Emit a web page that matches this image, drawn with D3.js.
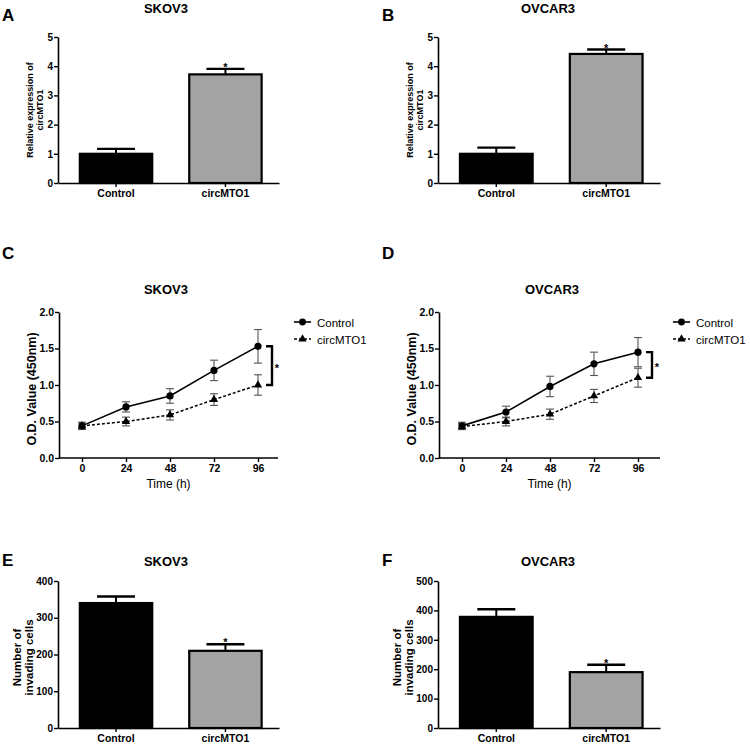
<!DOCTYPE html>
<html>
<head>
<meta charset="utf-8">
<script src="https://cdn.jsdelivr.net/npm/d3@7"></script>
<style>
html,body{margin:0;padding:0;background:#fff;}
svg{display:block;}
text{font-family:"Liberation Sans",Arial,sans-serif;}
</style>
</head>
<body>
<svg id="chart" width="750" height="744"></svg>
<script>
// ---------- data ----------
const barCategories = ["Control", "circMTO1"];
const aMeans = [1.0, 3.72];
const aErrors = [0.17, 0.19];
const bMeans = [1.0, 4.42];
const bErrors = [0.21, 0.15];
const eMeans = [340, 210];
const eErrors = [18, 18];
const fMeans = [378, 190];
const fErrors = [26, 25];
const aTicks = [0, 1, 2, 3, 4, 5];
const eTicks = [0, 100, 200, 300, 400];
const fTicks = [0, 100, 200, 300, 400, 500];

const timePoints = [0, 24, 48, 72, 96];
const cControl = [0.44, 0.70, 0.85, 1.20, 1.53];
const cControlErr = [0.05, 0.07, 0.10, 0.14, 0.23];
const cCirc = [0.44, 0.50, 0.59, 0.80, 1.00];
const cCircErr = [0.04, 0.06, 0.07, 0.08, 0.14];
const dControl = [0.44, 0.63, 0.98, 1.29, 1.45];
const dControlErr = [0.05, 0.08, 0.14, 0.16, 0.20];
const dCirc = [0.43, 0.50, 0.60, 0.85, 1.10];
const dCircErr = [0.04, 0.06, 0.07, 0.09, 0.13];
const odTicks = [0, 0.5, 1.0, 1.5, 2.0];
const seriesNames = ["Control", "circMTO1"];

const svg = d3.select("#chart");
const FONT = "'Liberation Sans',Arial,sans-serif";

function letter(x, y, t) {
  svg.append("text").attr("x", x).attr("y", y).attr("font-size", 17)
    .attr("font-weight", "bold").text(t);
}
function title(x, y, t) {
  svg.append("text").attr("x", x).attr("y", y).attr("text-anchor", "middle")
    .attr("font-size", 13).attr("font-weight", "bold").text(t);
}

function styleAxis(g, fs) {
  g.selectAll("path.domain").attr("stroke", "#000").attr("stroke-width", 1.6);
  g.selectAll(".tick line").attr("stroke", "#000").attr("stroke-width", 1.4);
  g.selectAll(".tick text").attr("font-family", FONT).attr("font-size", fs)
    .attr("font-weight", "bold").attr("fill", "#000");
}

function barPanel(opt) {
  const { x0, x1, yTop, yBot, means, errs, ticks, yMax, yTitle, titleFs, titleOffsets } = opt;
  const xs = d3.scaleBand().domain(barCategories).range([x0, x1])
    .paddingInner(0.32).paddingOuter(0.17).align(0.56);
  const ys = d3.scaleLinear().domain([0, yMax]).range([yBot, yTop]);
  const g = svg.append("g");
  // bars
  g.selectAll("rect.bar").data(barCategories).enter().append("rect")
    .attr("x", d => xs(d) + 1)
    .attr("width", xs.bandwidth() - 2)
    .attr("y", (d, i) => ys(means[i]))
    .attr("height", (d, i) => yBot - ys(means[i]))
    .attr("fill", (d, i) => i === 0 ? "#000" : "#a3a3a3")
    .attr("stroke", "#000").attr("stroke-width", 2.2);
  // error bars (upper only)
  const capW = 38;
  barCategories.forEach((c, i) => {
    const cx = xs(c) + xs.bandwidth() / 2;
    g.append("line").attr("x1", cx).attr("x2", cx)
      .attr("y1", ys(means[i])).attr("y2", ys(means[i] + errs[i]))
      .attr("stroke", "#000").attr("stroke-width", 2);
    g.append("line").attr("x1", cx - capW / 2).attr("x2", cx + capW / 2)
      .attr("y1", ys(means[i] + errs[i])).attr("y2", ys(means[i] + errs[i]))
      .attr("stroke", "#000").attr("stroke-width", 2.4);
    if (i === 1) {
      g.append("text").attr("x", cx).attr("y", ys(means[i] + errs[i]) + 2)
        .attr("text-anchor", "middle").attr("font-size", 11).attr("font-weight", "bold").text("*");
    }
  });
  // axes
  const ya = svg.append("g").attr("transform", `translate(${x0},0)`)
    .call(d3.axisLeft(ys).tickValues(ticks).tickSize(4).tickSizeOuter(0).tickPadding(1).tickFormat(d3.format("d")));
  styleAxis(ya, 10);
  const xa = svg.append("g").attr("transform", `translate(0,${yBot})`)
    .call(d3.axisBottom(xs).tickSize(4).tickSizeOuter(0).tickPadding(3));
  styleAxis(xa, 10.5);
  // y title
  const cy = (yTop + yBot) / 2 + (opt.titleShift || 0);
  yTitle.forEach((line, k) => {
    svg.append("text").attr("transform", `translate(${titleOffsets[k]},${cy}) rotate(-90)`)
      .attr("text-anchor", "middle").attr("font-size", titleFs).attr("font-weight", "bold").text(line);
  });
}

function linePanel(opt) {
  const { x0, x1, yTop, yBot, ctrl, ctrlErr, circ, circErr, legendX } = opt;
  const xs = d3.scaleLinear().domain([0, 96]).range([x0 + 23, x0 + 199]);
  const ys = d3.scaleLinear().domain([0, 2.0]).range([yBot, yTop]);
  const g = svg.append("g");
  const capW = 8;
  // error bars
  [[ctrl, ctrlErr], [circ, circErr]].forEach(([m, e]) => {
    timePoints.forEach((t, i) => {
      const cx = xs(t);
      g.append("line").attr("x1", cx).attr("x2", cx).attr("y1", ys(m[i] - e[i])).attr("y2", ys(m[i] + e[i]))
        .attr("stroke", "#555").attr("stroke-width", 1.1);
      [m[i] - e[i], m[i] + e[i]].forEach(v => {
        g.append("line").attr("x1", cx - capW / 2).attr("x2", cx + capW / 2).attr("y1", ys(v)).attr("y2", ys(v))
          .attr("stroke", "#555").attr("stroke-width", 1.1);
      });
    });
  });
  const line = d3.line().x((d, i) => xs(timePoints[i])).y(d => ys(d));
  g.append("path").attr("d", line(circ)).attr("fill", "none").attr("stroke", "#000")
    .attr("stroke-width", 1.5).attr("stroke-dasharray", "3,2");
  g.append("path").attr("d", line(ctrl)).attr("fill", "none").attr("stroke", "#000").attr("stroke-width", 1.6);
  const tri = d3.symbol().type(d3.symbolTriangle).size(30);
  g.selectAll("path.tri").data(circ).enter().append("path")
    .attr("d", tri).attr("transform", (d, i) => `translate(${xs(timePoints[i])},${ys(d)})`).attr("fill", "#000");
  g.selectAll("circle.pt").data(ctrl).enter().append("circle")
    .attr("cx", (d, i) => xs(timePoints[i])).attr("cy", d => ys(d)).attr("r", 3.6).attr("fill", "#000");
  // axes
  const ya = svg.append("g").attr("transform", `translate(${x0},0)`)
    .call(d3.axisLeft(ys).tickValues(odTicks).tickSize(4).tickSizeOuter(0).tickPadding(1).tickFormat(d3.format(".1f")));
  styleAxis(ya, 10.5);
  const xAxisScale = d3.scaleLinear().domain([0, 96]).range([x0 + 23, x0 + 199]);
  const xa = svg.append("g").attr("transform", `translate(0,${yBot})`)
    .call(d3.axisBottom(xAxisScale).tickValues(timePoints).tickSize(4).tickSizeOuter(0).tickPadding(3).tickFormat(d3.format("d")));
  xa.select("path.domain").attr("d", `M${x0},0H${x1}`);
  styleAxis(xa, 10.5);
  svg.append("text").attr("x", (x0 + x1) / 2).attr("y", yBot + 30).attr("text-anchor", "middle")
    .attr("font-size", 12).text("Time (h)");
  svg.append("text").attr("transform", `translate(${x0 - 23},${(yTop + yBot) / 2 + 4}) rotate(-90)`)
    .attr("text-anchor", "middle").attr("font-size", 12.5).attr("font-weight", "bold").text("O.D. Value (450nm)");
  // significance bracket
  const bx = xs(96) + 14;
  const yA = ys(ctrl[4]), yB = ys(circ[4]);
  svg.append("path").attr("d", `M${bx - 6},${yA}H${bx}V${yB}H${bx - 6}`)
    .attr("fill", "none").attr("stroke", "#000").attr("stroke-width", 2.4);
  svg.append("text").attr("x", bx + 5).attr("y", (yA + yB) / 2 + 6).attr("text-anchor", "middle")
    .attr("font-size", 11).attr("font-weight", "bold").text("*");
  // legend
  seriesNames.forEach((n, k) => {
    const ly = yTop + 10 + k * 17;
    svg.append("line").attr("x1", legendX).attr("x2", legendX + 17).attr("y1", ly).attr("y2", ly)
      .attr("stroke", "#000").attr("stroke-width", 1.6).attr("stroke-dasharray", k === 0 ? null : "3,2");
    if (k === 0) {
      svg.append("circle").attr("cx", legendX + 8.5).attr("cy", ly).attr("r", 3.4).attr("fill", "#000");
    } else {
      svg.append("path").attr("d", tri).attr("transform", `translate(${legendX + 8.5},${ly})`).attr("fill", "#000");
    }
    svg.append("text").attr("x", legendX + 23).attr("y", ly + 4.5).attr("font-size", 11.5).text(n);
  });
}

// ---------- Row 1 ----------
letter(2, 21, "A"); letter(382, 21, "B");
title(166, 13, "SKOV3"); title(548, 13, "OVCAR3");
barPanel({ x0: 58, x1: 279, yTop: 37, yBot: 183, means: aMeans, errs: aErrors, ticks: aTicks, yMax: 5,
  yTitle: ["Relative expression of", "circMTO1"], titleFs: 9, titleOffsets: [33, 43] });
barPanel({ x0: 438, x1: 660, yTop: 37, yBot: 183, means: bMeans, errs: bErrors, ticks: aTicks, yMax: 5,
  yTitle: ["Relative expression of", "circMTO1"], titleFs: 9, titleOffsets: [413, 423] });

// ---------- Row 2 ----------
letter(2, 259, "C"); letter(382, 259, "D");
title(166, 294, "SKOV3"); title(552, 294, "OVCAR3");
linePanel({ x0: 59, x1: 278, yTop: 312, yBot: 458, ctrl: cControl, ctrlErr: cControlErr, circ: cCirc, circErr: cCircErr, legendX: 294 });
linePanel({ x0: 439, x1: 660, yTop: 312, yBot: 458, ctrl: dControl, ctrlErr: dControlErr, circ: dCirc, circErr: dCircErr, legendX: 673 });

// ---------- Row 3 ----------
letter(2, 566, "E"); letter(382, 566, "F");
title(166, 566, "SKOV3"); title(548, 566, "OVCAR3");
barPanel({ x0: 58, x1: 279, yTop: 581, yBot: 728, means: eMeans, errs: eErrors, ticks: eTicks, yMax: 400,
  yTitle: ["Number of", "invading cells"], titleFs: 11.5, titleOffsets: [21, 33], titleShift: 3 });
barPanel({ x0: 438, x1: 660, yTop: 581, yBot: 728, means: fMeans, errs: fErrors, ticks: fTicks, yMax: 500,
  yTitle: ["Number of", "invading cells"], titleFs: 11.5, titleOffsets: [401, 413], titleShift: 3 });
</script>
</body>
</html>
